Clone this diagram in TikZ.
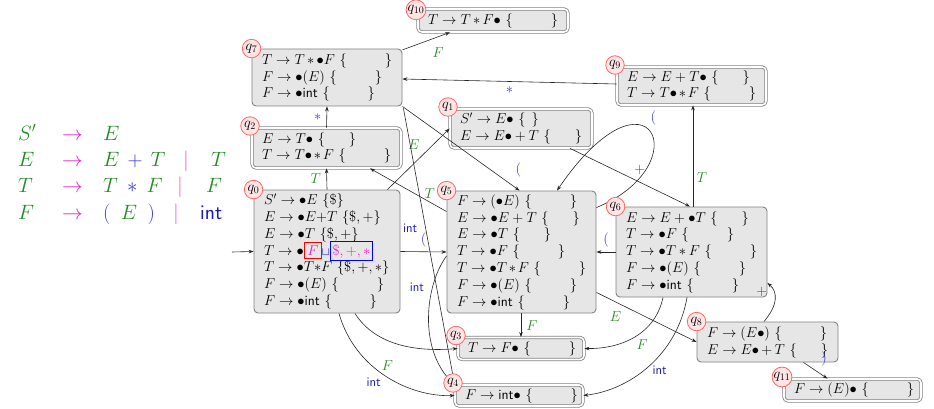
\documentclass[tikz,border=0pt]{standalone}
\usepackage{graphicx}
\usetikzlibrary{arrows.meta}
\definecolor{gr}{RGB}{34,139,34}
\definecolor{mag}{RGB}{230,30,200}
\definecolor{barc}{RGB}{235,90,205}
\definecolor{bl}{RGB}{55,55,215}
\definecolor{dbl}{RGB}{25,25,175}
\definecolor{boxfill}{RGB}{230,230,230}
\definecolor{boxline}{RGB}{130,130,130}
\relpenalty=10000
\binoppenalty=10000
\newcommand{\dotm}{{\bullet}}
\newcommand{\kwint}{\textsf{int}}
\newcommand{\lkE}{~$\{\hskip24pt\}$}
\newcommand{\lkT}{~$\{\hskip38pt\}$}
\newcommand{\redbx}[1]{\smash{\setlength{\fboxsep}{2.5pt}\setlength{\fboxrule}{1pt}\fcolorbox{red}{boxfill}{\textcolor{mag}{#1}}}}
\newcommand{\bluebx}[1]{\smash{\setlength{\fboxsep}{2pt}\setlength{\fboxrule}{1pt}\fcolorbox{blue}{boxfill}{\textcolor{mag}{#1}}}}
\newcommand{\sqc}{\raisebox{-0.5pt}{\textcolor{blue}{\scalebox{0.8}{$\sqcup$}}}}
\tikzset{
  st/.style={draw=boxline, fill=boxfill, line width=0.9pt, rounded corners=4pt, align=left,
    inner xsep=10pt, inner ysep=2pt, font=\fontsize{14}{16.8}\selectfont},
  acc/.style={st, double=white, double distance=1.6pt, line width=0.8pt},
  qlab/.style={circle, draw=red!60, fill=red!10, line width=0.8pt, inner sep=0.3pt,
    minimum size=18.5pt, font=\fontsize{14}{16}\selectfont},
  ed/.style={-{Stealth[length=5pt,width=3.6pt]}, line width=0.6pt, draw=black!85},
  lg/.style={text=gr, inner sep=1pt, font=\fontsize{14}{16}\selectfont},
  lb/.style={text=bl, inner sep=1pt, font=\fontsize{14}{16}\selectfont},
  lint/.style={text=dbl, inner sep=1pt, font=\fontsize{13}{15}\sffamily},
  gram/.style={anchor=base west, inner sep=0pt, font=\fontsize{21}{25}\selectfont},
}
\begin{document}
\begin{tikzpicture}[x=1pt, y=-1pt]
\useasboundingbox (0,0) rectangle (934,409);

% grammar
\node[gram, text=gr] (g1l) at (18,140) {$S'$};
\node[gram, text=mag] (g1a) at (62,140) {$\rightarrow$};
\node[gram, text=gr] (g1r) at (103,140) {$E$};
\node[gram, text=gr] (g2l) at (18,166) {$E$};
\node[gram, text=mag] (g2a) at (62,166) {$\rightarrow$};
\node[gram] (g2r) at (103,166) {${\color{gr}E}\mkern7mu{\color{bl}+}\mkern7mu{\color{gr}T}$};
\node[gram, anchor=base, text=barc] (g2b) at (186,166) {$|$};
\node[gram, text=gr] (g2t) at (211,166) {$T$};
\node[gram, text=gr] (g3l) at (18,192) {$T$};
\node[gram, text=mag] (g3a) at (62,192) {$\rightarrow$};
\node[gram] (g3r) at (103,192) {${\color{gr}T}\mkern8mu{\color{bl}*}\mkern8mu{\color{gr}F}$};
\node[gram, anchor=base, text=barc] (g3b) at (180,192) {$|$};
\node[gram, text=gr] (g3t) at (206,192) {$F$};
\node[gram, text=gr] (g4l) at (18,219) {$F$};
\node[gram, text=mag] (g4a) at (62,219) {$\rightarrow$};
\node[gram] (g4r) at (103,219) {${\color{bl}(}\mkern9mu{\color{gr}E}\mkern9mu{\color{bl})}$};
\node[gram, anchor=base, text=barc] (g4b) at (176,219) {$|$};
\node[gram, text=dbl] (g4t) at (200,219) {\textsf{int}};

% states
\node[acc, text width=130pt, minimum height=23pt] (q10) at (493,20.5)
  {$T\rightarrow T*F\dotm$\lkT};
\node[st, text width=130pt, minimum height=57pt] (q7) at (327,77.5)
  {$T\rightarrow T*\dotm F$\lkT\\ $F\rightarrow\dotm(E)$\lkT\\ $F\rightarrow\dotm$\kwint\lkT};
\node[acc, text width=129pt, minimum height=38pt] (q9) at (691.5,86)
  {$E\rightarrow E+T\dotm$\lkE\\ $T\rightarrow T\dotm*F$\lkT};
\node[acc, text width=122pt, minimum height=39pt] (q1) at (521,128.5)
  {$S'\rightarrow E\dotm$~$\{\hskip6pt\}$\\ $E\rightarrow E\dotm+T$\lkE};
\node[acc, text width=129pt, minimum height=40pt] (q2) at (326.5,148)
  {$E\rightarrow T\dotm$\lkE\\ $T\rightarrow T\dotm*F$\lkT};
\node[st, text width=126pt, minimum height=123pt] (q0) at (327,251.5)
  {$S'\rightarrow\dotm E$~$\{\$\}$\\
   $E\rightarrow\dotm E{+}T$~$\{\$,+\}$\\
   $E\rightarrow\dotm T$~$\{\$,+\}$\\
   $T\rightarrow\dotm$\redbx{$F$}\sqc\bluebx{$\$,+,*$}\\
   $T\rightarrow\dotm T{*}F$~$\{\$,+,*\}$\\
   $F\rightarrow\dotm(E)$\lkT\\
   $F\rightarrow\dotm$\kwint\lkT};
\node[st, text width=129pt, minimum height=122pt] (q5) at (521.5,252)
  {$F\rightarrow(\dotm E)$\lkT\\
   $E\rightarrow\dotm E+T$\lkE\\
   $E\rightarrow\dotm T$\lkE\\
   $T\rightarrow\dotm F$\lkT\\
   $T\rightarrow\dotm T*F$\lkT\\
   $F\rightarrow\dotm(E)$\lkT\\
   $F\rightarrow\dotm$\kwint\lkT};
\node[st, text width=131pt, minimum height=90pt] (q6) at (691.5,252)
  {$E\rightarrow E+\dotm T$\lkE\\
   $T\rightarrow\dotm F$\lkT\\
   $T\rightarrow\dotm T*F$\lkT\\
   $F\rightarrow\dotm(E)$\lkT\\
   $F\rightarrow\dotm$\kwint\lkT};
\node[acc, text width=106pt, minimum height=22pt] (q3) at (521,348.5)
  {$T\rightarrow F\dotm$\lkT};
\node[acc, text width=108pt, minimum height=21pt] (q4) at (519,395.5)
  {$F\rightarrow{}$\kwint$\dotm$\lkT};
\node[st, text width=121pt, minimum height=40pt] (q8) at (767.5,342)
  {$F\rightarrow(E\dotm)$\lkT\\ $E\rightarrow E\dotm+T$\lkE};
\node[acc, text width=117pt, minimum height=22pt] (q11) at (852.5,390)
  {$F\rightarrow(E)\dotm$\lkT};

% edges
\coordinate (start) at (232,252);
\draw[ed] (start) -- (q0.west);
\draw[ed] (q0.north) -- (q2.south) node[lg, pos=.5, xshift=-11pt]{$T$};
\draw[ed] (q2.north) -- (q7.south) node[lb, pos=.5, xshift=-9pt]{$*$};
\draw[ed] (q7) -- ([xshift=-43pt]q10.south) node[lg, pos=.75, yshift=-15.5pt]{$F$};
\draw[ed] ([yshift=2pt]q9.west) -- ([yshift=-1.5pt]q7.east) node[lb, pos=.5, yshift=-8.5pt]{$*$};
\draw[ed] ([xshift=-13pt]q0.north east) -- (q1.west) node[lg, pos=.73, xshift=-19pt]{$E$};
\draw[ed] ([yshift=-21pt]q5.north west) -- ([xshift=43.5pt]q2.south) node[lg, pos=.22, yshift=8pt]{$T$};
\draw[ed] (q0.east) -- (q5.west) node[lb, pos=.5, yshift=12pt]{$($};
\draw[ed] ([xshift=12pt]q0.south) .. controls (355,370) and (410,397) .. (q4.west)
  node[lint, pos=.4, yshift=-15pt]{int};
\draw[ed] ([xshift=28pt]q0.south) .. controls (375,345) and (415,352) .. (q3.west)
  node[lg, pos=.4, yshift=-25pt]{$F$};
\draw[ed] ([xshift=-0.5pt]q5.south) -- (q3.north) node[lg, pos=.5, xshift=11pt]{$F$};
\draw[ed] (q7.south east) -- ([xshift=-2pt]q5.north) node[lb, pos=.75, xshift=28pt]{$($};
\draw[ed] ([xshift=1pt,yshift=-2pt]q7.south east) -- (q4.north west)
  node[lint, pos=.433, xshift=-15.5pt]{int};
\draw[ed] ([yshift=-4pt]q5.west) .. controls (425,285) and (418,350) .. (q4.north west)
  node[lint, pos=.3, xshift=-15pt, yshift=3pt]{int};
\draw[ed] ([yshift=-17pt]q5.north east) .. controls (700,165) and (650,55) .. ([xshift=35.5pt]q5.north)
  node[lb, pos=.55, xshift=7pt, yshift=10pt]{$($};
\draw[ed] ([xshift=49pt]q1.south) -- ([xshift=-1.5pt]q6.north) node[lb, pos=.583, yshift=12pt]{$+$};
\draw[ed] ([xshift=1.5pt]q6.north) -- ([xshift=1.5pt]q9.south) node[lg, pos=.29, xshift=9pt]{$T$};
\draw[ed] (q6.west) -- (q5.east) node[lb, pos=.5, yshift=12pt]{$($};
\draw[ed] ([yshift=21pt]q5.south east) -- (q8.west) node[lg, pos=.19, yshift=-14.5pt]{$E$};
\draw[ed] ([xshift=-28.5pt]q6.south) .. controls (655,335) and (620,349) .. (q3.east)
  node[lg, pos=.4, yshift=-13pt]{$F$};
\draw[ed] ([xshift=-4.5pt]q6.south) .. controls (677,355) and (630,390) .. (q4.east)
  node[lint, pos=.4, yshift=-15pt]{int};
\draw[ed] ([xshift=-3.5pt]q8.north) .. controls (778,305) and (778,292) .. ([yshift=-31pt]q6.east)
  node[lb, pos=.5, xshift=-13pt, yshift=7.5pt]{$+$};
\draw[ed] ([xshift=36pt]q8.south) -- ([xshift=-25pt]q11.north)
  node[lb, pos=.5, xshift=8.5pt, yshift=12pt]{$)$};

% state labels
\node[qlab] (l0) at (q0.north west) {$q_{0}$};
\node[qlab] (l5) at (q5.north west) {$q_{5}$};
\node[qlab] (l6) at (q6.north west) {$q_{6}$};
\node[qlab] (l7) at (q7.north west) {$q_{7}$};
\node[qlab] (l8) at (q8.north west) {$q_{8}$};
\node[qlab] (l1) at ([shift={(-1.6pt,1.6pt)}]q1.north west) {$q_{1}$};
\node[qlab] (l2) at ([shift={(-1.6pt,1.6pt)}]q2.north west) {$q_{2}$};
\node[qlab] (l3) at ([shift={(-1.6pt,1.6pt)}]q3.north west) {$q_{3}$};
\node[qlab] (l4) at ([shift={(-1.6pt,1.6pt)}]q4.north west) {$q_{4}$};
\node[qlab] (l9) at ([shift={(-1.6pt,1.6pt)}]q9.north west) {$q_{9}$};
\node[qlab] (l10) at ([shift={(-1.6pt,-1.2pt)}]q10.north west) {$q_{10}$};
\node[qlab] (l11) at ([shift={(-1.6pt,1.6pt)}]q11.north west) {$q_{11}$};
\end{tikzpicture}
\end{document}
